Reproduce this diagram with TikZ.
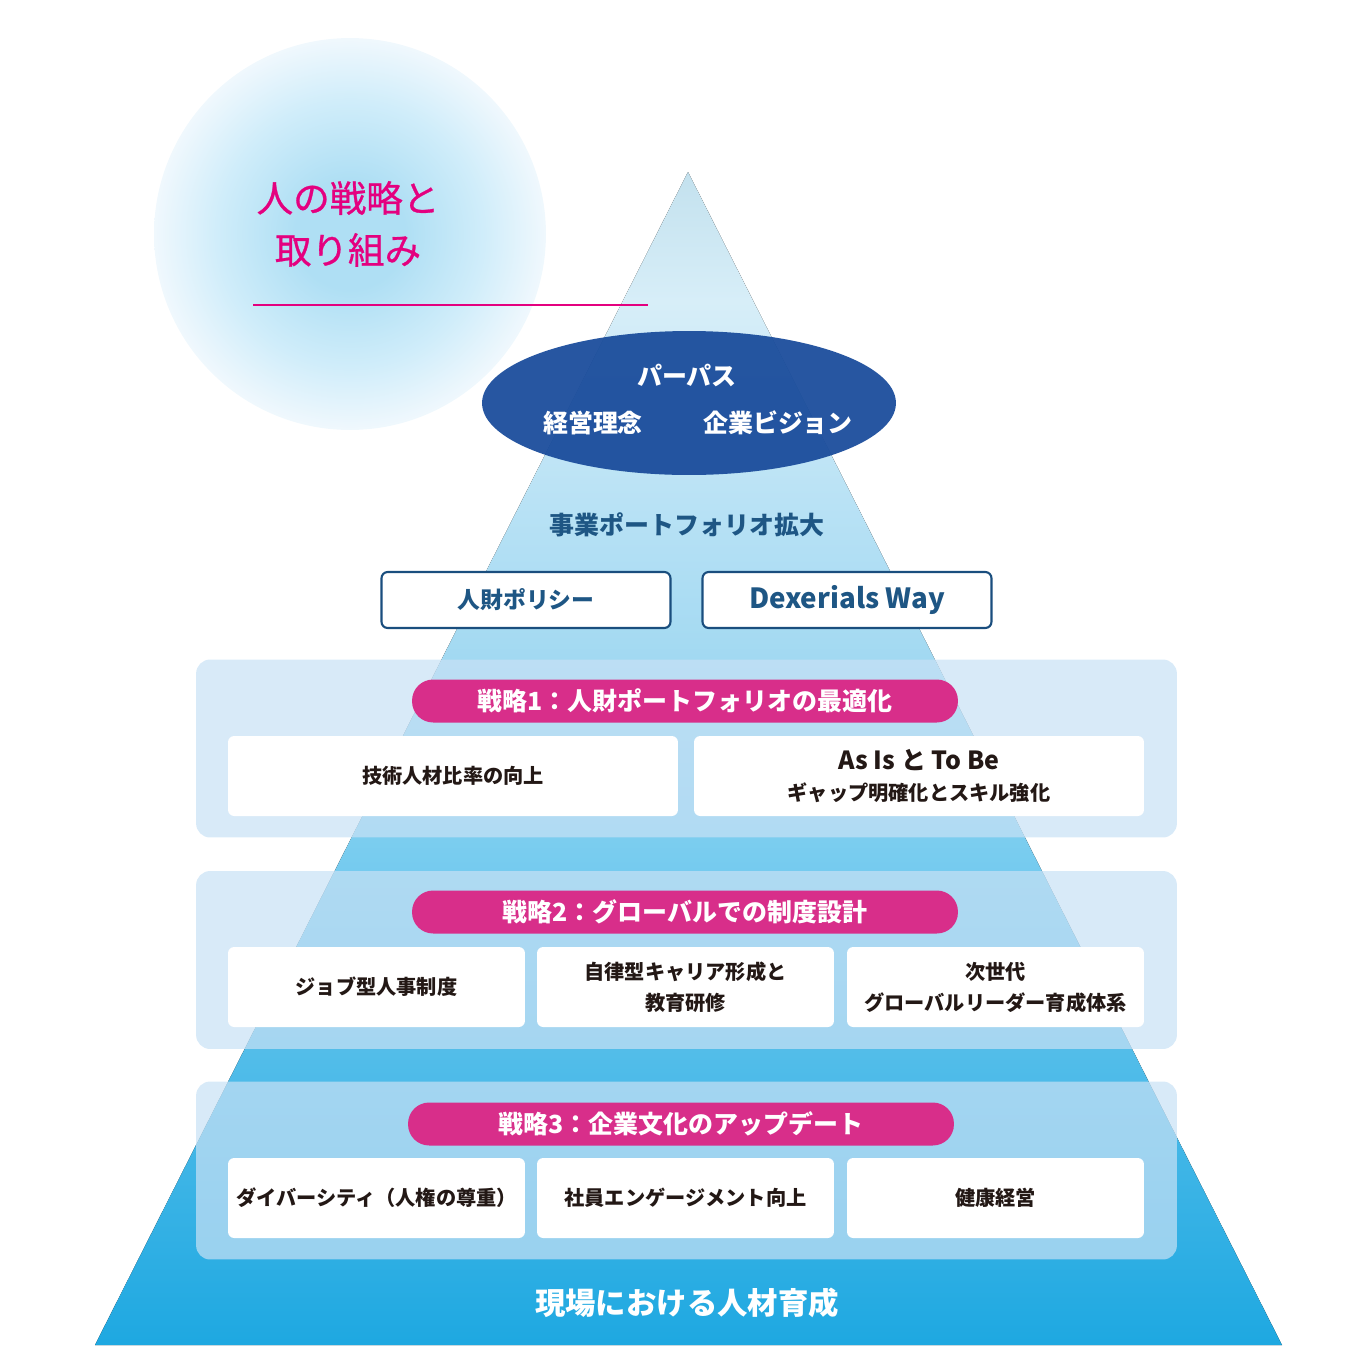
\documentclass[tikz,border=0pt]{standalone}
\usepackage{fontspec}
\setmainfont{Noto Sans CJK JP}
\usetikzlibrary{shapes.geometric}
\definecolor{hr_magenta}{RGB}{228, 0, 127}
\definecolor{hr_pill}{RGB}{216, 46, 138}
\definecolor{hr_navy}{RGB}{27, 77, 156}
\definecolor{hr_teal}{RGB}{30, 86, 132}
\definecolor{hr_border}{RGB}{26, 78, 126}
\definecolor{hr_ink}{RGB}{35, 24, 21}
\definecolor{hr_panel}{RGB}{200, 225, 245}
\definecolor{gl_core}{RGB}{175, 223, 244}
\definecolor{gl_mid}{RGB}{208, 237, 250}
\definecolor{gl_edge}{RGB}{240, 248, 253}
\definecolor{py_a}{RGB}{30, 168, 225}
\definecolor{py_b}{RGB}{80, 188, 233}
\definecolor{py_c}{RGB}{120, 204, 239}
\definecolor{py_d}{RGB}{165, 218, 242}
\definecolor{py_e}{RGB}{185, 226, 245}
\definecolor{py_f}{RGB}{215, 238, 248}
\definecolor{py_g}{RGB}{195, 225, 238}
\pgfdeclareverticalshading{pyramid}{100bp}{color(0bp)=(py_a); color(25bp)=(py_a);
  color(36.9bp)=(py_b); color(45.9bp)=(py_c); color(55bp)=(py_d);
  color(61bp)=(py_e); color(69.5bp)=(py_f); color(75bp)=(py_g); color(100bp)=(py_g)}
\pgfdeclareradialshading{glowshade}{\pgfpoint{0bp}{0bp}}{color(0bp)=(gl_core);
  color(7bp)=(gl_core); color(17bp)=(gl_mid); color(25bp)=(gl_edge); color(50bp)=(gl_edge)}
\newcommand{\hrtitlefont}{\fontsize{20.8pt}{26pt}\selectfont\addfontfeatures{FakeBold=0.8}}
\newcommand{\hrlabelfont}{\fontsize{14.2pt}{18pt}\selectfont\bfseries}
\newcommand{\hrbasefont}{\fontsize{17.3pt}{20pt}\selectfont\bfseries}
\newcommand{\hrcellfont}{\fontsize{11.5pt}{17.6pt}\selectfont\bfseries}
\tikzstyle{title}=[text=hr_magenta, font=\hrtitlefont, inner sep=0]
\tikzstyle{navytext}=[text=white, font=\hrlabelfont, inner sep=0]
\tikzstyle{panel}=[rectangle, rounded corners=8pt, fill=hr_panel, fill opacity=0.7,
  minimum width=19.62cm, minimum height=3.56cm, inner sep=0]
\tikzstyle{pill}=[rectangle, rounded corners=12pt, fill=hr_pill, text=white,
  minimum width=10.92cm, minimum height=0.86cm, inner sep=0, font=\hrlabelfont]
\tikzstyle{wide}=[rectangle, rounded corners=3.5pt, fill=white, text=hr_ink,
  minimum width=9cm, minimum height=1.6cm, inner sep=0, align=center, font=\hrcellfont]
\tikzstyle{cell}=[wide, minimum width=5.94cm]
\tikzstyle{policy}=[rectangle, rounded corners=3.5pt, draw=hr_border, line width=1.2pt,
  fill=white, text=hr_teal, minimum width=5.78cm, minimum height=1.12cm, inner sep=0,
  font=\hrlabelfont]

\begin{document}
\begin{tikzpicture}[x=0.02cm, y=-0.02cm]
    \useasboundingbox (0,0) rectangle (1360,1370);
    % glow and heading
    \node [circle, minimum size=7.84cm, inner sep=0, shading=glowshade] (glow) at (350, 234) {};
    \coordinate (apex) at (688, 172);
    \coordinate (baseL) at (95, 1345);
    \coordinate (baseR) at (1282, 1345);
    \fill [shading=pyramid] (apex) -- (baseL) -- (baseR) -- cycle;
    \node [style=title] (head1) at (348, 198) {人の戦略と};
    \node [style=title] (head2) at (348, 250) {取り組み};
    \coordinate (ruleL) at (253, 305);
    \coordinate (ruleR) at (648, 305);
    \draw [hr_magenta, line width=1.2pt] (ruleL) -- (ruleR);
    % top of the pyramid
    \node [ellipse, minimum width=8.28cm, minimum height=2.88cm, inner sep=0, fill=hr_navy, fill opacity=0.95] (core) at (689, 403) {};
    \node [style=navytext] (purpose) at (687, 375) {パーパス};
    \node [style=navytext] (philosophy) at (593, 423) {経営理念};
    \node [style=navytext] (vision) at (778, 423) {企業ビジョン};
    \node [text=hr_teal, font=\hrlabelfont, inner sep=0] (portfolio) at (687, 525) {事業ポートフォリオ拡大};
    \node [style=policy, font=\fontsize{13pt}{16pt}\selectfont\bfseries] (policy) at (526, 600) {人財ポリシー};
    \node [style=policy, font=\fontsize{15.8pt}{18pt}\selectfont\bfseries] (way) at (847, 600) {Dexerials Way};
    % strategy panels
    \node [style=panel] (panel1) at (686.5, 748.5) {};
    \node [style=panel] (panel2) at (686.5, 960) {};
    \node [style=panel] (panel3) at (686.5, 1170.5) {};
    \node [style=pill] (s1) at (685, 701) {戦略1：人財ポートフォリオの最適化};
    \node [style=pill] (s2) at (685, 912) {戦略2：グローバルでの制度設計};
    \node [style=pill] (s3) at (681, 1124) {戦略3：企業文化のアップデート};
    \node [style=wide] (s1a) at (453, 776) {技術人材比率の向上};
    \node [style=wide] (s1b) at (919, 776) {{\fontsize{14.2pt}{17.6pt}\selectfont As Is と To Be}\\ギャップ明確化とスキル強化};
    \node [style=cell] (s2a) at (376.5, 987) {ジョブ型人事制度};
    \node [style=cell] (s2b) at (685.5, 987) {自律型キャリア形成と\\教育研修};
    \node [style=cell] (s2c) at (995.5, 987) {次世代\\グローバルリーダー育成体系};
    \node [style=cell] (s3a) at (376.5, 1198) {ダイバーシティ（人権の尊重）};
    \node [style=cell] (s3b) at (685.5, 1198) {社員エンゲージメント向上};
    \node [style=cell] (s3c) at (995.5, 1198) {健康経営};
    \node [text=white, font=\hrbasefont, inner sep=0] (field) at (687, 1303) {現場における人材育成};
\end{tikzpicture}
\end{document}
